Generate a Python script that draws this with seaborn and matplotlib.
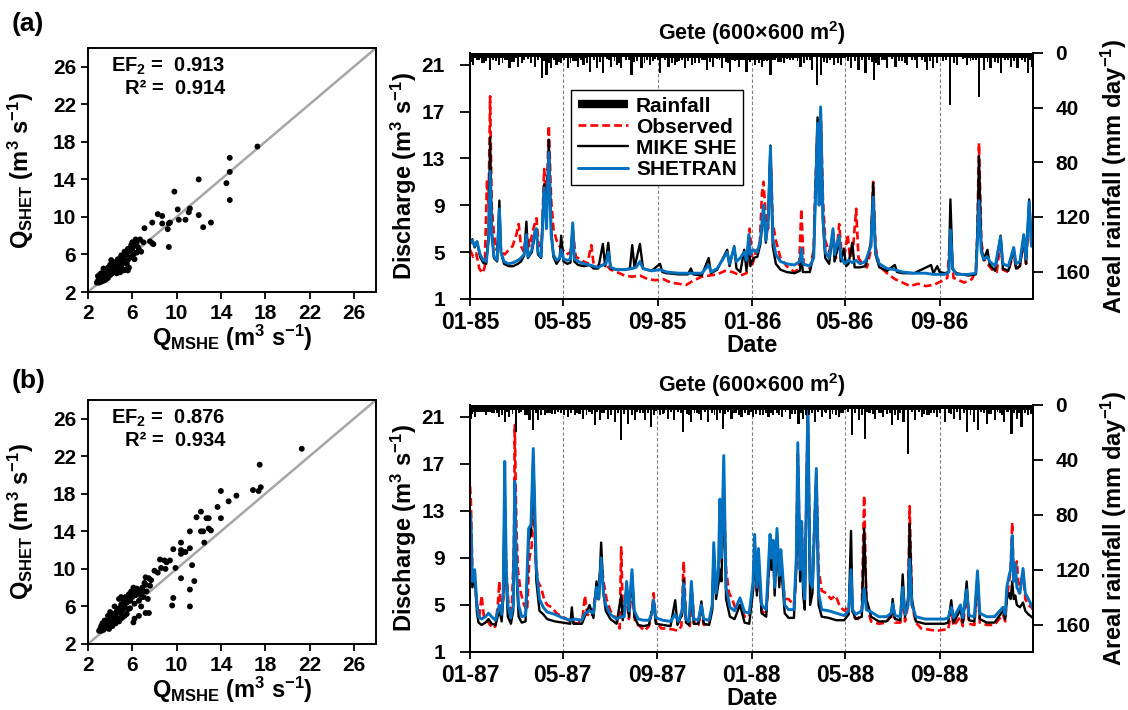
import numpy as np
import pandas as pd
import matplotlib
matplotlib.use("Agg")
import matplotlib.pyplot as plt
import matplotlib.dates as mdates
from matplotlib.lines import Line2D
import seaborn as sns

# ---------------- scatter data (panel a: 1985-86, panel b: 1987-88) ----------------
mshe_a = [17.3, 14.8, 14.8, 14.5, 14.8, 12.0, 12.0, 12.4, 13.1, 9.8, 10.1, 10.2, 10.8, 11.1,
          11.2, 8.3, 8.7, 8.7, 7.8, 7.1, 9.3, 9.2, 9.4, 9.3, 7.8, 7.6, 7.9,
          2.8, 2.9, 3.0, 3.1, 3.2, 3.3, 3.0, 2.9, 3.4, 3.5, 3.6, 3.3, 3.7, 3.8, 3.5, 3.9,
          4.0, 4.1, 3.8, 4.2, 4.3, 4.4, 4.0, 4.5, 4.6, 4.7, 4.8, 4.3, 4.9, 5.0, 5.1, 5.2,
          4.7, 5.3, 5.4, 5.5, 5.6, 5.0, 5.7, 5.8, 5.9, 5.3, 6.0, 6.1, 6.2, 6.3, 6.4, 6.5,
          6.6, 6.8, 6.2, 5.6, 5.9, 4.6, 4.9, 5.2, 3.4, 3.2, 3.1, 4.1, 6.0, 6.7, 7.0, 6.4,
          5.5, 5.6]
shet_a = [17.5, 16.3, 14.8, 13.6, 11.8, 14.0, 10.2, 8.9, 9.4, 12.7, 10.8, 9.7, 9.7, 10.5,
          10.9, 10.3, 10.1, 9.3, 9.4, 8.8, 9.3, 8.7, 9.4, 6.8, 7.2, 7.4, 7.1,
          3.0, 3.2, 3.0, 3.3, 3.1, 3.4, 3.5, 3.7, 3.2, 3.6, 3.3, 3.8, 3.9, 3.5, 4.1, 4.2,
          3.8, 4.4, 4.6, 4.0, 4.7, 4.2, 4.9, 4.5, 5.0, 4.3, 4.8, 5.2, 5.3, 4.6, 5.0, 5.6,
          5.5, 5.2, 4.4, 6.0, 5.4, 5.9, 4.6, 6.3, 5.7, 6.3, 6.6, 6.0, 7.0, 7.6, 7.3, 6.8,
          6.5, 6.3, 5.5, 6.6, 7.0, 4.0, 4.1, 4.3, 4.5, 4.0, 3.9, 5.4, 7.3, 7.6, 7.3, 6.2,
          5.0, 4.3]

mshe_b = [21.3, 17.5, 17.4, 17.6, 16.9, 15.4, 14.0, 14.7, 13.7, 12.2, 11.8, 12.7, 12.9, 14.0,
          12.2, 12.4, 12.9, 13.1, 11.2, 12.5, 10.4, 9.7, 10.4, 10.6, 10.8, 11.2, 10.4, 8.5,
          8.9, 9.1, 9.4, 9.0, 9.9, 8.0, 8.6, 8.3, 7.2, 7.5, 7.7, 7.1, 7.6, 10.4, 11.4, 11.6,
          11.2, 9.7, 9.6, 11.2, 7.5, 7.2, 6.6, 6.2, 6.1, 6.4, 6.2, 5.8, 7.0, 6.8, 5.5,
          3.0, 3.1, 3.2, 3.3, 3.4, 3.5, 3.2, 3.6, 3.7, 3.8, 3.5, 3.9, 4.0, 4.1, 3.8, 4.2,
          4.3, 4.4, 4.0, 4.5, 4.6, 4.7, 4.8, 4.4, 4.9, 5.0, 5.1, 5.2, 4.8, 5.3, 5.4, 5.5,
          5.6, 5.0, 5.7, 5.8, 5.9, 6.0, 6.1, 6.3, 6.5, 6.7, 6.9, 7.2, 7.0, 4.5, 4.8, 5.1,
          5.3, 5.5, 3.3, 4.2, 3.9, 5.8, 6.2, 6.6, 7.3, 7.4, 6.8, 5.6, 4.9]
shet_b = [22.8, 21.1, 18.3, 18.7, 18.4, 17.8, 18.3, 17.2, 16.6, 16.1, 15.5, 15.4, 15.4, 15.4,
          14.0, 14.0, 14.3, 14.1, 14.0, 12.8, 12.8, 12.1, 12.0, 11.8, 11.8, 12.2, 11.6, 11.0,
          10.9, 10.7, 10.9, 10.0, 10.1, 9.8, 10.1, 9.6, 9.1, 9.0, 8.8, 8.5, 8.2, 9.0, 10.4, 8.7,
          7.8, 6.9, 6.1, 6.0, 5.3, 5.3, 5.0, 4.7, 4.3, 7.9, 7.5, 7.2, 7.0, 6.0, 6.9,
          3.4, 3.6, 3.4, 3.8, 3.5, 4.0, 3.9, 3.7, 4.3, 3.9, 4.5, 4.6, 4.1, 4.8, 5.0, 4.4,
          5.2, 4.6, 5.4, 5.0, 5.5, 4.7, 5.8, 6.0, 5.3, 6.2, 5.6, 6.6, 6.8, 6.0, 7.0, 6.4,
          6.9, 7.0, 7.3, 6.6, 7.6, 7.0, 8.0, 7.2, 7.8, 7.4, 8.0, 8.3, 7.6, 4.2, 4.4, 4.8,
          5.0, 5.2, 4.2, 3.9, 3.6, 5.8, 6.3, 6.6, 7.6, 6.8, 7.0, 5.7, 4.6]

# ---------------- discharge series, panel a (days since 1985-01-01) ----------------
shet_days_a = [0, 3, 6, 9, 13, 17, 21, 24, 26, 28, 31, 35, 38, 40, 44, 50, 56, 62, 66, 70, 73, 75,
               80, 84, 86, 88, 92, 96, 99, 102, 105, 108, 112, 116, 118, 121, 126, 130, 133, 135,
               140, 148, 155, 160, 166, 172, 176, 179, 182, 190, 200, 210, 215, 220, 224, 235,
               246, 255, 270, 285, 300, 309, 312, 320, 333, 336, 342, 345, 350, 355, 358, 361,
               363, 367, 372, 376, 380, 383, 386, 389, 392, 396, 402, 410, 420, 427, 429, 431,
               440, 445, 447, 450, 452, 454, 457, 460, 465, 470, 472, 478, 480, 485, 490, 495,
               500, 505, 512, 519, 522, 525, 530, 540, 550, 560, 575, 590, 600, 615, 620, 622,
               625, 630, 645, 655, 657, 659, 662, 665, 670, 673, 680, 687, 690, 697, 704, 707,
               712, 717, 720, 724, 727, 730]
shet_q_a = [5.8, 6.0, 5.5, 5.9, 4.8, 4.3, 4.2, 6.0, 11.9, 6.5, 4.6, 4.3, 8.7, 5.0, 4.2, 4.0, 4.1,
            4.3, 4.5, 4.8, 6.5, 4.6, 5.2, 6.8, 7.0, 5.0, 4.6, 10.5, 7.0, 13.5, 6.5, 4.8, 4.3, 4.5,
            5.2, 4.4, 4.3, 4.4, 7.5, 4.4, 4.2, 4.0, 3.9, 3.8, 3.7, 3.9, 4.0, 5.0, 3.7, 3.5, 3.5,
            3.6, 3.7, 4.2, 3.6, 3.4, 3.5, 3.3, 3.2, 3.2, 3.2, 3.9, 3.3, 3.6, 5.0, 4.0, 5.4, 4.2,
            4.5, 5.0, 4.3, 6.5, 4.8, 5.2, 5.0, 6.0, 9.0, 6.0, 7.5, 14.0, 6.2, 4.8, 4.2, 4.0, 3.9,
            4.2, 5.3, 4.0, 3.8, 4.5, 9.0, 16.0, 9.0, 17.4, 8.0, 5.0, 4.5, 7.0, 4.8, 6.4, 4.6, 4.0,
            4.3, 4.1, 4.3, 4.0, 4.2, 5.5, 9.7, 5.0, 4.0, 3.6, 3.5, 3.3, 3.2, 3.2, 3.1, 3.1, 3.3,
            6.9, 3.6, 3.1, 3.1, 3.2, 6.0, 9.4, 5.0, 4.4, 4.6, 4.2, 3.8, 6.3, 4.0, 3.8, 5.4, 4.0,
            4.2, 6.5, 4.4, 9.3, 5.5, 6.5]

mshe_days_a = [0, 3, 6, 9, 13, 17, 21, 24, 26, 28, 31, 35, 38, 40, 44, 50, 56, 62, 66, 70, 73, 75,
               80, 84, 86, 88, 92, 96, 99, 102, 105, 108, 112, 116, 118, 121, 126, 130, 133, 135,
               140, 148, 155, 160, 166, 172, 175, 179, 182, 190, 200, 207, 210, 213, 220, 224,
               235, 246, 249, 255, 270, 282, 286, 289, 300, 309, 312, 320, 333, 336, 342, 345,
               350, 355, 358, 361, 363, 367, 372, 376, 380, 383, 386, 389, 392, 396, 402, 410,
               420, 427, 429, 431, 440, 445, 447, 450, 452, 454, 457, 460, 465, 470, 472, 478,
               480, 484, 487, 490, 495, 498, 505, 512, 519, 522, 525, 530, 540, 550, 553, 560,
               575, 597, 600, 605, 608, 615, 620, 622, 625, 630, 645, 655, 657, 659, 662, 665,
               670, 673, 680, 687, 690, 697, 704, 707, 712, 717, 720, 724, 727, 730]
mshe_q_a = [5.7, 6.1, 5.4, 5.9, 4.6, 4.1, 4.0, 6.5, 14.8, 7.0, 4.5, 4.2, 9.4, 5.0, 4.0, 3.8, 3.8,
            4.0, 4.2, 4.7, 7.6, 4.5, 5.0, 6.5, 6.8, 4.8, 4.5, 10.8, 7.5, 14.6, 7.0, 4.6, 4.0, 4.4,
            6.4, 4.2, 4.0, 4.1, 7.2, 4.2, 3.9, 3.8, 3.9, 3.6, 3.6, 5.7, 3.8, 5.8, 3.6, 3.5, 3.5,
            3.6, 5.6, 3.7, 5.7, 3.6, 3.4, 4.0, 3.3, 3.2, 3.1, 3.1, 3.6, 3.1, 3.0, 4.5, 3.2, 3.5,
            5.2, 3.8, 5.5, 3.6, 3.3, 5.2, 3.4, 6.3, 3.8, 4.5, 4.6, 5.7, 8.7, 5.8, 7.8, 14.1, 5.5,
            4.0, 3.5, 3.3, 3.2, 3.4, 4.6, 3.3, 3.3, 4.8, 9.5, 16.5, 9.5, 17.0, 7.5, 4.5, 4.0, 6.8,
            4.2, 6.0, 4.2, 5.3, 3.8, 4.0, 5.8, 3.7, 3.7, 3.8, 5.8, 10.9, 4.8, 3.7, 3.4, 3.9, 3.3,
            3.2, 3.2, 3.9, 3.2, 3.8, 3.3, 3.2, 3.3, 9.5, 3.5, 3.2, 3.0, 3.1, 6.5, 13.2, 5.5, 4.3,
            5.2, 3.9, 3.4, 6.4, 3.6, 3.4, 5.2, 3.6, 3.8, 6.2, 4.0, 9.5, 5.8, 6.0]

obs_days_a = [0, 4, 8, 12, 16, 19, 22, 24, 26, 28, 31, 34, 38, 41, 45, 50, 55, 60, 63, 66, 70, 73,
              77, 82, 86, 89, 93, 96, 99, 102, 105, 108, 112, 116, 120, 125, 130, 133, 137, 145,
              152, 157, 160, 168, 175, 182, 190, 200, 210, 220, 230, 240, 250, 260, 270, 280,
              290, 300, 310, 320, 330, 340, 350, 358, 362, 366, 370, 375, 378, 380, 383, 386,
              389, 392, 396, 402, 410, 420, 426, 429, 432, 440, 445, 447, 450, 452, 454, 457,
              460, 465, 470, 474, 478, 481, 485, 489, 492, 496, 500, 503, 508, 514, 519, 522,
              525, 530, 540, 550, 560, 570, 580, 590, 600, 610, 618, 622, 626, 640, 650, 655,
              657, 659, 662, 665, 670, 676, 682, 687, 690, 697, 704, 707, 712, 717, 720, 724,
              727, 730]
obs_q_a = [5.2, 4.6, 4.9, 3.6, 3.2, 3.7, 11.2, 9.0, 18.3, 9.0, 6.5, 5.2, 6.0, 5.0, 4.8, 5.2, 5.5,
           6.5, 7.4, 5.5, 5.0, 6.8, 5.5, 7.0, 7.9, 5.5, 6.0, 12.1, 9.0, 15.8, 9.5, 7.0, 6.0, 5.5,
           5.2, 4.8, 5.0, 6.8, 4.6, 4.3, 4.0, 5.6, 4.0, 3.8, 4.0, 3.5, 3.3, 3.0, 2.9, 3.0, 2.7,
           2.6, 2.7, 2.4, 2.3, 2.2, 2.6, 2.9, 3.0, 3.1, 3.4, 3.3, 3.0, 3.2, 7.0, 4.0, 5.0, 5.5,
           10.0, 11.0, 8.0, 7.0, 13.5, 7.5, 6.0, 4.5, 3.8, 3.3, 3.6, 8.7, 4.0, 3.6, 5.2, 10.5,
           15.5, 10.0, 17.0, 9.5, 6.0, 5.0, 6.5, 4.5, 7.4, 5.0, 4.8, 6.5, 4.5, 5.3, 8.7, 4.5, 4.0,
           3.7, 5.2, 11.0, 5.5, 3.8, 3.2, 2.7, 2.4, 2.1, 2.3, 2.1, 2.2, 2.5, 2.8, 6.5, 2.8, 2.4,
           2.7, 3.5, 7.0, 14.3, 6.0, 4.5, 4.0, 3.5, 3.3, 6.0, 3.5, 3.3, 5.0, 3.5, 3.8, 6.0, 4.0,
           8.5, 5.5, 5.8]

# ---------------- discharge series, panel b (days since 1987-01-01) ----------------
shet_days_b = [0, 1, 3, 6, 9, 11, 15, 20, 24, 28, 33, 38, 41, 43, 45, 47, 49, 53, 56, 58, 60, 63,
               67, 72, 76, 79, 82, 86, 90, 95, 100, 110, 120, 130, 136, 145, 149, 155, 160, 164,
               167, 170, 173, 176, 182, 190, 196, 200, 203, 206, 210, 213, 218, 225, 232, 236,
               238, 241, 250, 260, 266, 270, 275, 277, 280, 284, 287, 290, 296, 300, 303, 310,
               314, 316, 319, 322, 324, 326, 329, 332, 337, 343, 350, 356, 362, 367, 369, 372,
               374, 378, 384, 389, 391, 393, 395, 398, 401, 403, 405, 408, 413, 420, 421, 423,
               425, 428, 430, 432, 434, 438, 441, 444, 449, 452, 456, 465, 475, 485, 491, 494,
               496, 500, 508, 511, 514, 520, 530, 540, 546, 548, 551, 558, 561, 564, 568, 570,
               573, 578, 590, 600, 615, 620, 624, 627, 636, 639, 644, 647, 654, 658, 661, 670,
               680, 691, 694, 696, 699, 701, 703, 705, 707, 709, 713, 717, 720, 724, 728, 731]
shet_q_b = [12.9, 12.5, 7.0, 8.0, 5.0, 4.0, 3.8, 4.0, 4.3, 4.0, 3.7, 5.0, 4.2, 6.0, 17.2, 8.0,
            5.0, 3.9, 5.0, 15.5, 8.5, 5.0, 4.0, 4.1, 11.5, 11.8, 18.3, 8.0, 5.5, 4.8, 4.4, 4.2,
            3.9, 3.7, 3.8, 3.7, 4.3, 4.5, 4.3, 6.5, 5.5, 9.0, 6.0, 5.0, 4.2, 3.8, 4.0, 4.0, 7.0,
            4.5, 8.0, 4.5, 3.8, 3.7, 3.7, 4.3, 5.4, 3.9, 3.7, 3.6, 4.2, 3.6, 4.5, 6.8, 3.8, 3.6,
            7.0, 3.8, 3.7, 5.0, 3.8, 3.7, 5.0, 10.3, 6.0, 8.0, 14.0, 9.0, 17.7, 6.5, 4.8, 4.5,
            5.6, 4.4, 4.3, 7.0, 11.0, 6.5, 9.8, 5.0, 4.6, 11.0, 9.0, 10.5, 6.5, 11.5, 7.5, 9.7,
            8.0, 5.0, 4.6, 4.6, 6.0, 9.0, 18.8, 8.0, 12.1, 7.0, 5.5, 22.0, 7.0, 6.5, 16.6, 6.0,
            4.6, 4.5, 4.3, 4.1, 4.5, 8.0, 4.6, 4.2, 4.5, 6.4, 4.6, 4.4, 4.0, 4.0, 4.3, 5.1, 4.1,
            4.0, 6.5, 4.2, 5.0, 8.9, 5.0, 4.0, 3.8, 3.8, 3.8, 3.9, 4.8, 3.9, 5.0, 3.9, 6.3, 4.1,
            4.0, 7.9, 4.3, 4.0, 4.0, 4.8, 4.2, 6.5, 7.5, 8.0, 10.9, 7.0, 8.5, 6.5, 6.0, 8.1, 6.0,
            5.5, 5.0, 4.6]

mshe_days_b = [0, 1, 3, 6, 9, 11, 15, 20, 24, 28, 33, 38, 41, 43, 45, 47, 49, 53, 56, 58, 60, 63,
               67, 72, 76, 79, 82, 86, 90, 95, 100, 110, 120, 130, 132, 134, 145, 150, 155, 160,
               164, 167, 170, 173, 176, 182, 190, 196, 198, 203, 206, 210, 213, 218, 225, 232,
               238, 241, 250, 260, 266, 269, 275, 277, 280, 284, 287, 290, 296, 300, 303, 310,
               314, 316, 319, 322, 324, 326, 329, 332, 337, 343, 350, 356, 362, 367, 369, 372,
               374, 378, 384, 389, 391, 393, 395, 398, 401, 403, 405, 408, 413, 420, 421, 423,
               425, 428, 430, 432, 434, 438, 441, 444, 449, 452, 456, 465, 475, 485, 491, 494,
               496, 500, 508, 511, 514, 517, 520, 530, 540, 546, 548, 551, 558, 561, 564, 568,
               570, 573, 578, 590, 600, 615, 620, 624, 627, 636, 639, 644, 647, 654, 658, 661,
               670, 680, 691, 694, 696, 699, 701, 703, 705, 707, 709, 713, 717, 720, 724, 728, 731]
mshe_q_b = [12.0, 11.5, 6.5, 7.5, 4.3, 3.5, 3.3, 3.5, 3.8, 3.4, 3.3, 4.6, 3.6, 5.5, 15.0, 7.0,
            4.0, 3.4, 4.5, 15.3, 8.0, 4.0, 3.5, 3.6, 10.5, 11.0, 17.5, 7.0, 4.5, 4.2, 3.8, 3.6,
            3.5, 3.4, 4.8, 3.4, 3.4, 4.2, 5.0, 3.9, 7.0, 5.5, 10.3, 6.0, 4.5, 3.8, 3.4, 5.8, 3.7,
            6.5, 4.0, 7.5, 4.0, 3.3, 3.2, 3.3, 5.2, 3.4, 3.3, 3.2, 5.4, 3.3, 4.2, 7.2, 3.5, 3.3,
            6.5, 3.4, 3.4, 5.3, 3.4, 3.3, 4.5, 9.5, 5.5, 6.8, 8.0, 7.0, 15.0, 5.5, 4.0, 3.8, 5.0,
            3.5, 3.4, 6.2, 10.0, 5.8, 9.0, 4.3, 4.0, 10.0, 8.0, 9.5, 5.8, 11.0, 6.5, 9.0, 7.0,
            4.3, 3.9, 3.9, 5.5, 8.0, 17.5, 7.0, 11.0, 5.8, 4.6, 21.5, 5.0, 6.0, 16.0, 5.0, 4.0,
            3.9, 3.7, 3.7, 4.2, 11.3, 4.5, 3.8, 4.0, 11.5, 5.5, 4.8, 4.0, 3.6, 3.6, 4.0, 5.5, 3.8,
            3.7, 7.6, 4.0, 5.5, 11.9, 5.5, 3.6, 3.4, 3.4, 3.4, 3.5, 5.4, 3.5, 4.6, 3.5, 7.0, 3.7,
            3.6, 7.5, 3.8, 3.5, 3.5, 4.5, 3.8, 5.5, 6.0, 5.5, 7.0, 5.5, 5.8, 5.0, 4.8, 5.2, 4.5,
            4.2, 4.0, 3.8]

obs_days_b = [0, 1, 3, 6, 9, 12, 15, 18, 22, 26, 30, 33, 36, 38, 40, 43, 45, 47, 50, 54, 57, 58,
              60, 62, 66, 70, 74, 77, 80, 82, 85, 88, 92, 96, 100, 106, 112, 120, 130, 140, 146,
              149, 152, 158, 163, 166, 170, 173, 177, 182, 190, 194, 196, 198, 203, 206, 210,
              214, 220, 226, 232, 236, 238, 241, 248, 256, 264, 270, 274, 277, 280, 285, 288,
              291, 296, 300, 303, 310, 314, 316, 319, 322, 324, 326, 329, 332, 336, 340, 345,
              350, 356, 362, 367, 369, 372, 374, 378, 384, 389, 391, 393, 395, 398, 401, 403,
              405, 408, 413, 420, 421, 423, 425, 428, 430, 432, 434, 438, 441, 444, 449, 452,
              456, 462, 468, 474, 480, 486, 491, 494, 497, 503, 508, 511, 514, 520, 530, 540,
              548, 551, 558, 561, 564, 568, 570, 573, 578, 585, 595, 605, 615, 620, 624, 627,
              636, 639, 644, 647, 654, 658, 661, 670, 680, 691, 694, 696, 699, 701, 703, 705,
              707, 709, 712, 717, 720, 724, 728, 731]
obs_q_b = [15.1, 14.0, 8.0, 7.0, 5.0, 4.0, 5.8, 4.0, 3.7, 3.3, 3.0, 3.2, 5.0, 7.0, 4.5, 5.5, 13.0,
           8.0, 5.0, 4.5, 10.0, 20.3, 12.0, 8.0, 6.0, 5.0, 4.5, 9.0, 10.0, 15.0, 9.0, 7.0, 6.5,
           5.5, 5.0, 4.8, 4.3, 4.0, 3.6, 3.4, 4.0, 5.8, 4.2, 4.0, 6.0, 5.5, 9.0, 7.0, 5.5, 4.5,
           3.8, 3.0, 9.9, 4.5, 5.5, 3.8, 6.5, 3.5, 3.2, 2.8, 3.2, 4.5, 6.0, 3.6, 3.0, 3.0, 2.9,
           2.8, 3.2, 8.7, 3.8, 3.2, 6.0, 3.3, 3.3, 4.5, 3.3, 3.4, 4.8, 9.5, 6.0, 7.0, 10.0, 9.0,
           15.0, 8.0, 6.0, 5.5, 4.5, 5.0, 4.0, 4.0, 6.5, 9.5, 6.0, 8.5, 4.5, 4.2, 9.5, 8.0, 10.0,
           6.5, 10.5, 7.5, 9.0, 7.5, 5.5, 5.5, 5.0, 5.5, 8.5, 18.0, 8.0, 12.0, 7.5, 6.0, 21.0,
           7.5, 7.5, 16.0, 8.0, 6.2, 6.0, 5.5, 5.8, 4.8, 4.5, 5.0, 5.5, 4.0, 3.8, 4.5, 14.3, 5.0,
           3.6, 3.4, 3.5, 4.5, 3.5, 3.5, 6.0, 3.6, 5.0, 13.4, 5.0, 3.5, 3.0, 2.9, 2.8, 2.9, 2.9,
           4.5, 3.2, 4.0, 3.2, 6.0, 3.4, 3.3, 7.0, 3.5, 3.3, 3.3, 4.2, 3.6, 5.5, 7.0, 8.0, 12.0,
           7.0, 8.0, 8.7, 6.0, 7.8, 5.5, 5.0, 4.8, 4.5]

# ---------------- areal rainfall (mm/day) ----------------
# monthly background band, the larger rain days, and the smaller rain days
rain_base_a = [4, 4, 3, 4, 4, 3, 3, 3, 4, 4, 4, 5, 5, 4, 3, 4, 3, 3, 3, 3, 3, 4, 4, 4]
rain_days_a = [4, 15, 26, 38, 51, 62, 67, 84, 93, 99, 105, 112, 118, 127, 140, 147, 155, 164, 172,
               183, 190, 196, 209, 222, 233, 246, 257, 265, 278, 287, 296, 307, 315, 326, 337,
               348, 358, 369, 378, 389, 402, 428, 443, 449, 454, 462, 471, 480, 493, 503, 512,
               523, 529, 540, 551, 566, 579, 592, 599, 605, 622, 631, 644, 659, 666, 674, 687,
               700, 709, 722, 728, 9, 21, 45, 57, 75, 88, 134, 160, 177, 202, 216, 240, 252, 271,
               301, 320, 331, 353, 384, 395, 410, 418, 436, 486, 498, 517, 534, 546, 559, 572,
               585, 612, 638, 651, 680, 693, 715]
rain_mm_a = [8.8, 7.6, 12.4, 8.8, 11.2, 10.0, 7.6, 10.0, 18.5, 16.1, 11.2, 8.8, 7.6, 11.2, 10.0,
             8.8, 13.7, 11.2, 14.9, 10.0, 8.8, 11.2, 16.1, 11.2, 8.8, 14.9, 10.0, 8.8, 11.2, 8.8,
             7.6, 12.4, 10.0, 11.2, 13.7, 10.0, 13.7, 8.8, 10.0, 16.1, 6.3, 10.0, 12.4, 23.4,
             16.1, 7.6, 8.8, 8.8, 11.2, 12.4, 14.9, 19.7, 8.8, 11.2, 10.0, 8.8, 11.2, 12.4, 11.2,
             7.6, 38.0, 8.8, 8.8, 31.9, 12.4, 11.2, 14.9, 10.0, 11.2, 14.9, 10.0, 5.5, 6.0, 5.0,
             6.5, 4.5, 5.5, 6.0, 5.0, 4.5, 5.5, 6.0, 4.5, 5.0, 6.0, 5.0, 4.5, 6.5, 5.0, 6.0, 5.5,
             4.5, 5.0, 5.5, 4.0, 6.0, 5.0, 5.5, 4.5, 6.0, 5.0, 5.5, 6.0, 4.5, 5.0, 6.5, 5.5, 5.0]
rain_small_days_a = [2, 12, 18, 30, 34, 42, 48, 54, 70, 79, 96, 102, 109, 115, 122, 130, 137, 144,
                     151, 168, 180, 187, 193, 206, 212, 226, 229, 237, 243, 261, 268, 275, 282,
                     291, 304, 311, 323, 334, 343, 362, 366, 374, 381, 392, 399, 406, 414, 424,
                     432, 440, 458, 466, 476, 489, 507, 520, 526, 537, 555, 563, 576, 589, 596,
                     616, 627, 648, 655, 670, 684, 697, 704, 719, 725]
rain_small_mm_a = [6.5, 5.0, 7.0, 5.5, 6.0, 7.5, 5.0, 6.5, 5.5, 7.0, 6.0, 7.5, 5.5, 6.5, 5.0, 7.0,
                   6.0, 5.5, 7.5, 6.5, 5.0, 6.0, 7.0, 5.5, 6.5, 7.5, 5.0, 6.0, 5.5, 7.0, 6.5, 5.0,
                   6.0, 7.0, 5.5, 6.5, 5.0, 7.5, 6.0, 6.5, 5.5, 7.0, 6.0, 5.0, 6.5, 7.0, 5.5, 6.0,
                   7.5, 5.0, 6.5, 5.5, 7.0, 6.0, 5.0, 6.5, 7.0, 5.5, 6.0, 7.5, 5.0, 6.5, 6.0, 5.5,
                   7.0, 6.0, 5.0, 6.5, 7.0, 5.5, 6.0, 6.5, 5.0]

rain_base_b = [5, 4, 4, 4, 4, 4, 4, 4, 4, 4, 4, 4, 4, 4, 4, 4, 3, 4, 4, 4, 3, 4, 4, 4]
rain_days_b = [1, 6, 10, 38, 45, 51, 60, 71, 77, 82, 88, 97, 110, 127, 136, 147, 162, 168, 179,
               188, 196, 205, 214, 227, 235, 246, 257, 265, 276, 287, 300, 309, 320, 328, 339,
               352, 361, 367, 376, 387, 393, 404, 415, 426, 432, 439, 447, 456, 467, 478, 495,
               504, 512, 525, 536, 547, 555, 562, 568, 577, 586, 592, 605, 616, 627, 635, 644,
               653, 659, 670, 681, 692, 702, 709, 715, 724, 17, 25, 31, 66, 103, 118, 142, 155,
               174, 220, 241, 252, 270, 281, 294, 314, 334, 345, 398, 421, 451, 462, 484, 490,
               518, 530, 541, 582, 598, 621, 663, 676, 687, 697, 720]
rain_mm_b = [10.0, 8.8, 3.9, 8.8, 12.4, 8.8, 20.0, 7.6, 11.2, 18.5, 11.2, 7.6, 6.3, 8.8, 7.6,
             10.0, 14.9, 11.2, 10.0, 12.4, 25.8, 13.7, 11.2, 11.2, 16.1, 7.6, 10.0, 11.2, 19.7,
             12.4, 11.2, 12.4, 11.2, 17.3, 10.0, 8.8, 7.6, 8.8, 7.6, 8.8, 7.6, 8.8, 10.0, 13.7,
             10.0, 7.6, 12.4, 8.8, 10.0, 8.8, 22.2, 11.2, 24.6, 10.0, 8.8, 14.9, 11.2, 12.4, 35.6,
             11.2, 8.8, 7.6, 8.8, 12.4, 10.0, 11.2, 19.7, 12.4, 18.5, 13.7, 11.2, 12.4, 21.0,
             10.0, 16.1, 7.6, 5.0, 4.5, 5.5, 5.0, 6.0, 5.5, 6.5, 5.0, 6.0, 5.5, 4.5, 6.0, 5.0, 6.5,
             5.5, 6.0, 5.0, 5.5, 6.0, 6.5, 5.0, 6.0, 5.5, 5.0, 6.0, 5.5, 6.5, 5.0, 5.5, 6.0, 5.0,
             6.5, 5.5, 5.0, 6.0]
rain_small_days_b = [3, 13, 21, 28, 35, 41, 48, 55, 63, 74, 85, 92, 100, 106, 114, 122, 131, 139,
                     151, 158, 165, 171, 183, 192, 200, 210, 217, 224, 231, 238, 250, 261, 273,
                     284, 291, 297, 305, 317, 324, 331, 342, 349, 356, 364, 371, 380, 384, 390,
                     401, 409, 418, 429, 436, 443, 460, 470, 474, 481, 499, 508, 515, 522, 533,
                     544, 551, 558, 573, 589, 595, 602, 609, 624, 631, 640, 649, 666, 673, 684,
                     690, 705, 712, 727]
rain_small_mm_b = [6.5, 5.0, 7.0, 5.5, 6.0, 7.5, 5.0, 6.5, 5.5, 7.0, 6.0, 7.5, 5.5, 6.5, 5.0, 7.0,
                   6.0, 5.5, 7.5, 6.5, 5.0, 6.0, 7.0, 5.5, 6.5, 7.5, 5.0, 6.0, 5.5, 7.0, 6.5, 5.0,
                   6.0, 7.0, 5.5, 6.5, 5.0, 7.5, 6.0, 6.5, 5.5, 7.0, 6.0, 5.0, 6.5, 7.0, 5.5, 6.0,
                   7.5, 5.0, 6.5, 5.5, 7.0, 6.0, 5.0, 6.5, 7.0, 5.5, 6.0, 7.5, 5.0, 6.5, 6.0, 5.5,
                   7.0, 6.0, 5.0, 6.5, 7.0, 5.5, 6.0, 6.5, 5.0, 6.0, 7.0, 5.5, 6.5, 5.0, 7.5, 6.0,
                   5.5, 6.5]

stats_a = ("0.913", "0.914")
stats_b = ("0.876", "0.934")

RED = "#FF0000"
BLUE = "#0070C0"

sns.set_style("ticks")
plt.rcParams["font.family"] = ["Liberation Sans", "DejaVu Sans"]
plt.rcParams["font.weight"] = "bold"
plt.rcParams["axes.labelweight"] = "bold"
plt.rcParams["text.color"] = "black"
plt.rcParams["axes.labelcolor"] = "black"
plt.rcParams["xtick.color"] = "black"
plt.rcParams["ytick.color"] = "black"
plt.rcParams["mathtext.fontset"] = "custom"
plt.rcParams["mathtext.rm"] = "Liberation Sans:bold"
plt.rcParams["mathtext.bf"] = "Liberation Sans:bold"
plt.rcParams["mathtext.it"] = "Liberation Sans:bold"
plt.rcParams["mathtext.default"] = "bf"

UNIT = r"(m$^3$ s$^{-1}$)"
LABEL_FS = 17


def style_axes(ax, size, pad=3.5, length=5, axis="both"):
    for sp in ax.spines.values():
        sp.set_linewidth(1.4)
        sp.set_color("black")
    ax.tick_params(axis=axis, direction="out", length=length, width=1.3, labelsize=size,
                   pad=pad, colors="black")
    for lab in ax.get_xticklabels() + ax.get_yticklabels():
        lab.set_fontweight("bold")


def draw_scatter(ax, x, y, stats):
    ax.axline((2, 2), slope=1, color="#A6A6A6", lw=1.8, zorder=1)
    sns.scatterplot(x=x, y=y, ax=ax, color="black", s=18, edgecolor="none", zorder=3)
    ax.set_xlim(2, 28)
    ax.set_ylim(2, 28)
    ticks = [2, 6, 10, 14, 18, 22, 26]
    ax.set_xticks(ticks)
    ax.set_yticks(ticks)
    ax.set_xlabel(r"Q$_{MSHE}$ " + UNIT, fontsize=LABEL_FS, labelpad=0)
    ax.set_ylabel(r"Q$_{SHET}$ " + UNIT, fontsize=LABEL_FS, labelpad=12)
    ax.text(0.476, 0.925, r"EF$_2$ =  " + stats[0], transform=ax.transAxes,
            ha="right", va="center", fontsize=14.5, fontweight="bold")
    ax.text(0.476, 0.833, "R² =  " + stats[1], transform=ax.transAxes,
            ha="right", va="center", fontsize=14.5, fontweight="bold")
    style_axes(ax, 15)


def to_dates(start, days):
    return pd.Timestamp(start) + pd.to_timedelta(np.asarray(days), unit="D")


def draw_series(ax, start, end, obs, mshe, shet, rain_base, rain, rain_small, legend=False):
    sns.lineplot(x=to_dates(start, obs[0]), y=obs[1], ax=ax, color=RED, lw=1.9,
                 linestyle=(0, (3, 1.5)), zorder=3)
    sns.lineplot(x=to_dates(start, mshe[0]), y=mshe[1], ax=ax, color="black", lw=1.7, zorder=4)
    sns.lineplot(x=to_dates(start, shet[0]), y=shet[1], ax=ax, color=BLUE, lw=2.1, zorder=5)
    ax.set_ylim(1, 22)
    ax.set_yticks([1, 5, 9, 13, 17, 21])
    ax.set_xlim(pd.Timestamp(start), pd.Timestamp(end))
    ax.xaxis.set_major_locator(mdates.MonthLocator(bymonth=[1, 5, 9]))
    ax.xaxis.set_major_formatter(mdates.DateFormatter("%m-%y"))
    ax.grid(axis="x", color="#7F7F7F", linestyle=(0, (3, 2)), lw=0.8)
    ax.set_axisbelow(True)
    ax.set_xlabel("Date", fontsize=LABEL_FS, labelpad=0)
    ax.set_ylabel("Discharge " + UNIT, fontsize=LABEL_FS, labelpad=2)
    ax.set_title("Gete (600×600 m$^2$)", fontsize=15.5, fontweight="bold", pad=9)
    ax.spines["top"].set_visible(False)
    style_axes(ax, 16.5, pad=4, axis="x")
    style_axes(ax, 15, pad=11, length=7, axis="y")

    rx = ax.twinx()
    months = pd.date_range(start, periods=len(rain_base), freq="MS")
    rx.bar(months, rain_base, width=31, align="edge", color="black", lw=0)
    rx.bar(to_dates(start, rain[0]), rain[1], width=2.8, color="black", lw=0)
    rx.bar(to_dates(start, rain_small[0]), rain_small[1], width=2.4, color="black", lw=0)
    rx.set_ylim(180, 0)
    rx.set_yticks([0, 40, 80, 120, 160])
    rx.set_ylabel(r"Areal rainfall (mm day$^{-1}$)", fontsize=LABEL_FS, labelpad=6)
    rx.set_xlim(pd.Timestamp(start), pd.Timestamp(end))
    style_axes(rx, 15, pad=9, length=7, axis="y")
    rx.spines["top"].set_visible(False)

    if legend:
        handles = [
            Line2D([], [], color="black", lw=6, solid_capstyle="butt"),
            Line2D([], [], color=RED, lw=1.9, linestyle=(0, (3, 1.5))),
            Line2D([], [], color="black", lw=1.7),
            Line2D([], [], color=BLUE, lw=2.1),
        ]
        leg = rx.legend(handles, ["Rainfall", "Observed", "MIKE SHE", "SHETRAN"],
                        loc="upper left", bbox_to_anchor=(0.18, 0.848), fancybox=False,
                        edgecolor="black", framealpha=1, handlelength=2.4,
                        labelspacing=0.1, borderpad=0.3, handletextpad=0.4,
                        borderaxespad=0, prop={"weight": "bold", "size": 15})
        leg.get_frame().set_linewidth(1.0)


fig = plt.figure(figsize=(11.28, 7.10), dpi=100)
sc_a = fig.add_axes([0.078, 0.5887, 0.2553, 0.3437])
sc_b = fig.add_axes([0.078, 0.0930, 0.2553, 0.3437])
ts_a = fig.add_axes([0.4167, 0.5789, 0.4991, 0.3465])
ts_b = fig.add_axes([0.4167, 0.0817, 0.4991, 0.3479])

draw_scatter(sc_a, mshe_a, shet_a, stats_a)
draw_scatter(sc_b, mshe_b, shet_b, stats_b)

draw_series(ts_a, "1985-01-01", "1986-12-31",
            (obs_days_a, obs_q_a), (mshe_days_a, mshe_q_a), (shet_days_a, shet_q_a),
            rain_base_a, (rain_days_a, rain_mm_a), (rain_small_days_a, rain_small_mm_a),
            legend=True)
draw_series(ts_b, "1987-01-01", "1988-12-31",
            (obs_days_b, obs_q_b), (mshe_days_b, mshe_q_b), (shet_days_b, shet_q_b),
            rain_base_b, (rain_days_b, rain_mm_b), (rain_small_days_b, rain_small_mm_b))

fig.text(0.010, 0.966, "(a)", fontsize=19, fontweight="bold", va="center")
fig.text(0.010, 0.464, "(b)", fontsize=19, fontweight="bold", va="center")

fig.savefig("out.png", dpi=100)
